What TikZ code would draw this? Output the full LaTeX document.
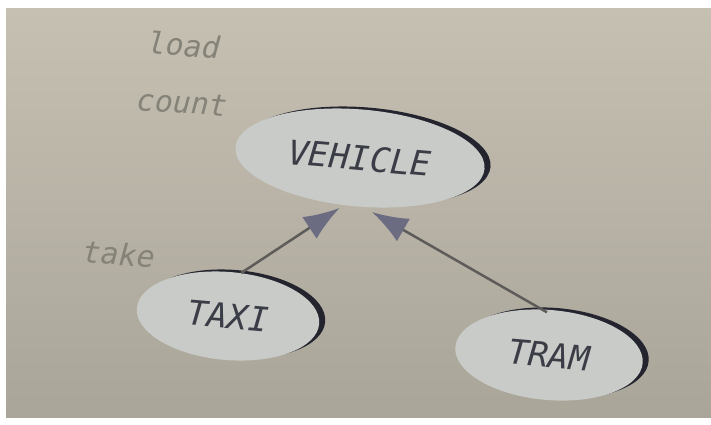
\documentclass[tikz,border=0pt]{standalone}
\usepackage{fontspec}
\usetikzlibrary{shapes.geometric,arrows.meta,shadows}
\newfontfamily\slidemono{DejaVu Sans Mono}
\definecolor{slidetop}{HTML}{C6C0B2}
\definecolor{slidebottom}{HTML}{A9A599}
\definecolor{ovalfill}{HTML}{C9CBC8}
\definecolor{ovaledge}{HTML}{24242E}
\definecolor{inkdark}{HTML}{3A3D46}
\definecolor{inklight}{HTML}{858278}
\definecolor{tipblue}{HTML}{6B6B82}
\definecolor{linegray}{HTML}{5E5C5A}
\tikzset{
  classoval/.style={ellipse, fill=ovalfill, inner sep=0pt, rotate=-5, text=inkdark,
    font=\slidemono\itshape\fontsize{34}{34}\selectfont,
    drop shadow={shadow xshift=6pt, shadow yshift=2pt, fill=ovaledge, opacity=1}},
  memberlabel/.style={text=inklight, rotate=-4, font=\slidemono\itshape\fontsize{30}{30}\selectfont},
  inherits/.style={draw=linegray, line width=2.5pt, -{Latex[length=36pt,width=26pt,color=tipblue]}}
}

\begin{document}
\begin{tikzpicture}[x=1pt, y=-1pt]
    		\useasboundingbox (0,0) rectangle (711,424);
    		\fill[white] (0,0) rectangle (711,424);
    		\shade[top color=slidetop, bottom color=slidebottom] (6,8) rectangle (711,417);

    		\node[classoval, minimum width=250pt, minimum height=97pt] (vehicle) at (360,158) {VEHICLE};
    		\node[classoval, minimum width=183pt, minimum height=88pt] (taxi) at (228,316) {TAXI};
    		\node[classoval, minimum width=188pt, minimum height=90pt] (tram) at (549,355) {TRAM};

    		\node[memberlabel] (load) at (184,45) {load};
    		\node[memberlabel] (count) at (182,103) {count};
    		\node[memberlabel] (take) at (119,254) {take};

    		\draw[inherits, shorten >=5pt] (taxi.78) -- (vehicle.256);
    		\draw[inherits, shorten <=-6pt, shorten >=10pt] (tram.104) -- (vehicle.279);
\end{tikzpicture}
\end{document}
